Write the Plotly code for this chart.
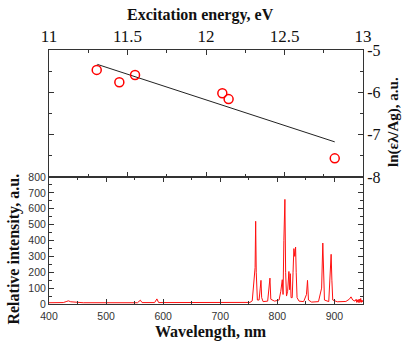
import plotly.graph_objects as go

# ---- Top panel: Boltzmann-type plot ----
ENERGY = [11.304, 11.448, 11.548, 12.104, 12.144, 12.82]
LN_VAL = [-5.47, -5.76, -5.59, -6.02, -6.16, -7.56]
FIT_E = [11.308, 12.82]
FIT_LN = [-5.34, -7.17]

# ---- Bottom panel: emission spectrum ----
WAVELENGTH = [400, 425, 430, 434, 438, 445, 452, 460, 500, 555, 560, 563, 585, 589, 592,
              640, 648, 652, 700, 740, 752, 756, 758.5, 759.7, 761, 762, 763, 765, 768,
              770, 771.3, 772.5, 775, 783, 786, 787, 788.5, 795, 803, 806, 808.6, 810,
              811.4, 813.2, 814.5, 816, 818, 820.2, 821.5, 822.6, 824, 826, 827.5, 828.9,
              830.5, 831.9, 833, 834.5, 838, 846, 851, 852.8, 854.5, 860, 872, 877.5,
              879.6, 881, 882.5, 890, 893, 894.2, 895.5, 897, 905, 920, 926, 929, 932,
              936, 938, 939, 940, 941, 942, 943, 944, 945, 946, 947, 948, 949, 950]
INTENSITY = [8, 9, 15, 20, 14, 12, 9, 8, 8, 8, 24, 9, 9, 32, 9,
             8, 12, 8, 7, 8, 10, 20, 150, 216, 230, 521, 200, 25, 25,
             100, 149, 40, 15, 18, 120, 163, 30, 18, 25, 80, 153, 60,
             401, 659, 200, 50, 80, 205, 90, 191, 40, 40, 200, 349,
             300, 359, 200, 40, 18, 15, 60, 149, 25, 12, 15, 100,
             384, 250, 25, 15, 200, 313, 150, 25, 14, 16, 30, 45, 25,
             18, 30, 10, 26, 12, 28, 8, 30, 12, 35, 10, 25, 14, 22]

X_TICKS_TOP = [11, 11.5, 12, 12.5, 13]
X_TICKTEXT_TOP = ["11", "11.5", "12", "12.5", "13"]
Y_TICKS_RIGHT = [-8, -7, -6, -5]
Y_TICKTEXT_RIGHT = ["-8", "-7", "-6", "-5"]
X_TICKS_BOTTOM = [400, 500, 600, 700, 800, 900]
Y_TICKS_LEFT = [0, 100, 200, 300, 400, 500, 600, 700, 800]

AX_COLOR = "#333333"
SERIF = "Liberation Serif"
SANS = "Liberation Sans"

fig = go.Figure()
fig.add_trace(go.Scatter(x=WAVELENGTH, y=INTENSITY, mode="lines",
                         line=dict(color="#ff1010", width=1),
                         xaxis="x", yaxis="y", showlegend=False))
fig.add_trace(go.Scatter(x=FIT_E, y=FIT_LN, mode="lines",
                         line=dict(color="#222222", width=1),
                         xaxis="x2", yaxis="y2", showlegend=False))
fig.add_trace(go.Scatter(x=ENERGY, y=LN_VAL, mode="markers",
                         marker=dict(symbol="circle-open", size=9, color="#ff0000",
                                     line=dict(width=1.5, color="#ff0000")),
                         xaxis="x2", yaxis="y2", showlegend=False))

common = dict(showline=True, linecolor=AX_COLOR, linewidth=1, mirror="allticks",
              ticks="inside", tickcolor=AX_COLOR, ticklen=5, tickwidth=1,
              showgrid=False, zeroline=False, automargin=False)

fig.update_layout(
    width=407, height=349,
    margin=dict(l=49, r=44, t=50, b=45),
    paper_bgcolor="white", plot_bgcolor="white",
    xaxis=dict(domain=[0, 1], range=[400, 950], anchor="y",
               tickvals=X_TICKS_BOTTOM, ticklabelstandoff=2,
               minor=dict(dtick=50, tick0=400, ticks="inside", ticklen=3, tickcolor=AX_COLOR),
               tickfont=dict(family=SANS, size=10.5, color="#333333"), **common),
    yaxis=dict(domain=[0, 0.5], range=[0, 800], anchor="x",
               tickvals=Y_TICKS_LEFT,
               minor=dict(dtick=50, tick0=0, ticks="inside", ticklen=3, tickcolor=AX_COLOR),
               tickfont=dict(family=SANS, size=10.5, color="#333333"), **common),
    xaxis2=dict(domain=[0, 1], range=[11, 13], anchor="y2", side="top",
                tickvals=X_TICKS_TOP, ticktext=X_TICKTEXT_TOP,
                minor=dict(dtick=0.25, tick0=11, ticks="inside", ticklen=3, tickcolor=AX_COLOR),
                tickfont=dict(family=SERIF, size=17, color="#111111"), **common),
    yaxis2=dict(domain=[0.5, 1], range=[-8, -5], anchor="x2", side="right",
                tickvals=Y_TICKS_RIGHT, ticktext=Y_TICKTEXT_RIGHT,
                minor=dict(dtick=0.5, tick0=-8, ticks="inside", ticklen=3, tickcolor=AX_COLOR),
                tickfont=dict(family=SERIF, size=16, color="#111111"), **common),
)

title_font = dict(family=SERIF, size=16, color="#111111")
fig.add_annotation(text="<b>Excitation energy, eV</b>", xref="paper", yref="paper",
                   x=0.4834, y=1.138, xanchor="center", yanchor="middle",
                   showarrow=False, font=title_font)
fig.add_annotation(text="<b>Wavelength, nm</b>", xref="paper", yref="paper",
                   x=0.516, y=-0.110, xanchor="center", yanchor="middle",
                   showarrow=False, font=title_font)
fig.add_annotation(text="<b>Relative intensity, a.u.</b>", xref="paper", yref="paper",
                   x=-0.111, y=0.215, xanchor="center", yanchor="middle", textangle=-90,
                   showarrow=False, font=title_font)
fig.add_annotation(text="<b>ln(ελ/Ag), a.u.</b>", xref="paper", yref="paper",
                   x=1.099, y=0.717, xanchor="center", yanchor="middle", textangle=-90,
                   showarrow=False, font=dict(family=SERIF, size=15, color="#111111"))

fig.write_html("out.html", config={"displayModeBar": False},
               post_script="document.body.style.margin='0px';")
